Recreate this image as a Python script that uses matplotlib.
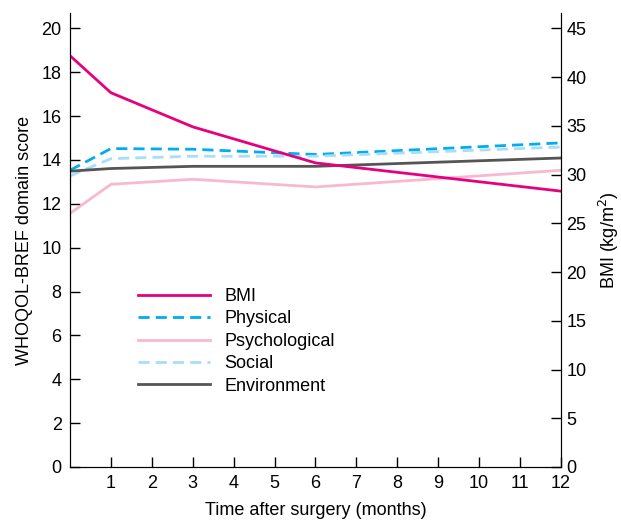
import matplotlib.pyplot as plt

plt.rcParams['font.family'] = ['Liberation Sans', 'DejaVu Sans']
plt.rcParams['font.size'] = 13

months = [0, 1, 3, 6, 12]
bmi = [42.2, 38.4, 34.9, 31.2, 28.3]
physical = [13.53, 14.52, 14.49, 14.25, 14.78]
psychological = [11.56, 12.89, 13.12, 12.77, 13.53]
social = [13.27, 14.06, 14.17, 14.17, 14.59]
environment = [13.49, 13.61, 13.71, 13.71, 14.09]

fig = plt.figure(figsize=(6.21, 5.22), dpi=100)
ax = fig.add_axes([0.1127, 0.1054, 0.7907, 0.8696])
ax2 = ax.twinx()

l_phys, = ax.plot(months, physical, color='#00aeef', lw=2, ls=(0, (4, 2.2)), label='Physical')
l_psy, = ax.plot(months, psychological, color='#f7b8d2', lw=2, label='Psychological')
l_soc, = ax.plot(months, social, color='#a8def6', lw=2, ls=(0, (4, 2.2)), label='Social')
l_env, = ax.plot(months, environment, color='#555555', lw=2, label='Environment')
l_bmi, = ax2.plot(months, bmi, color='#e6007e', lw=2, label='BMI')

ax.set_xlim(0, 12)
ax.set_ylim(0, 20.7)
ax2.set_ylim(0, 20.7 * 45 / 20)
ax.set_xticks(range(1, 13))
ax.set_yticks(range(0, 21, 2))
ax2.set_yticks(range(0, 46, 5))

for a in (ax, ax2):
    a.spines['top'].set_visible(False)
    a.tick_params(direction='in', length=7, width=1, pad=6)
ax2.tick_params(axis='y', pad=4)

ax.set_xlabel('Time after surgery (months)', labelpad=7)
ax.set_ylabel('WHOQOL-BREF domain score', labelpad=6)
ax2.set_ylabel('BMI (kg/m$^2$)', labelpad=7)

ax.legend(handles=[l_bmi, l_phys, l_psy, l_soc, l_env], loc='upper left',
          bbox_to_anchor=(0.105, 0.43), frameon=False, handlelength=4.0,
          handletextpad=0.8, labelspacing=0.3)

fig.savefig('out.png', dpi=100)
